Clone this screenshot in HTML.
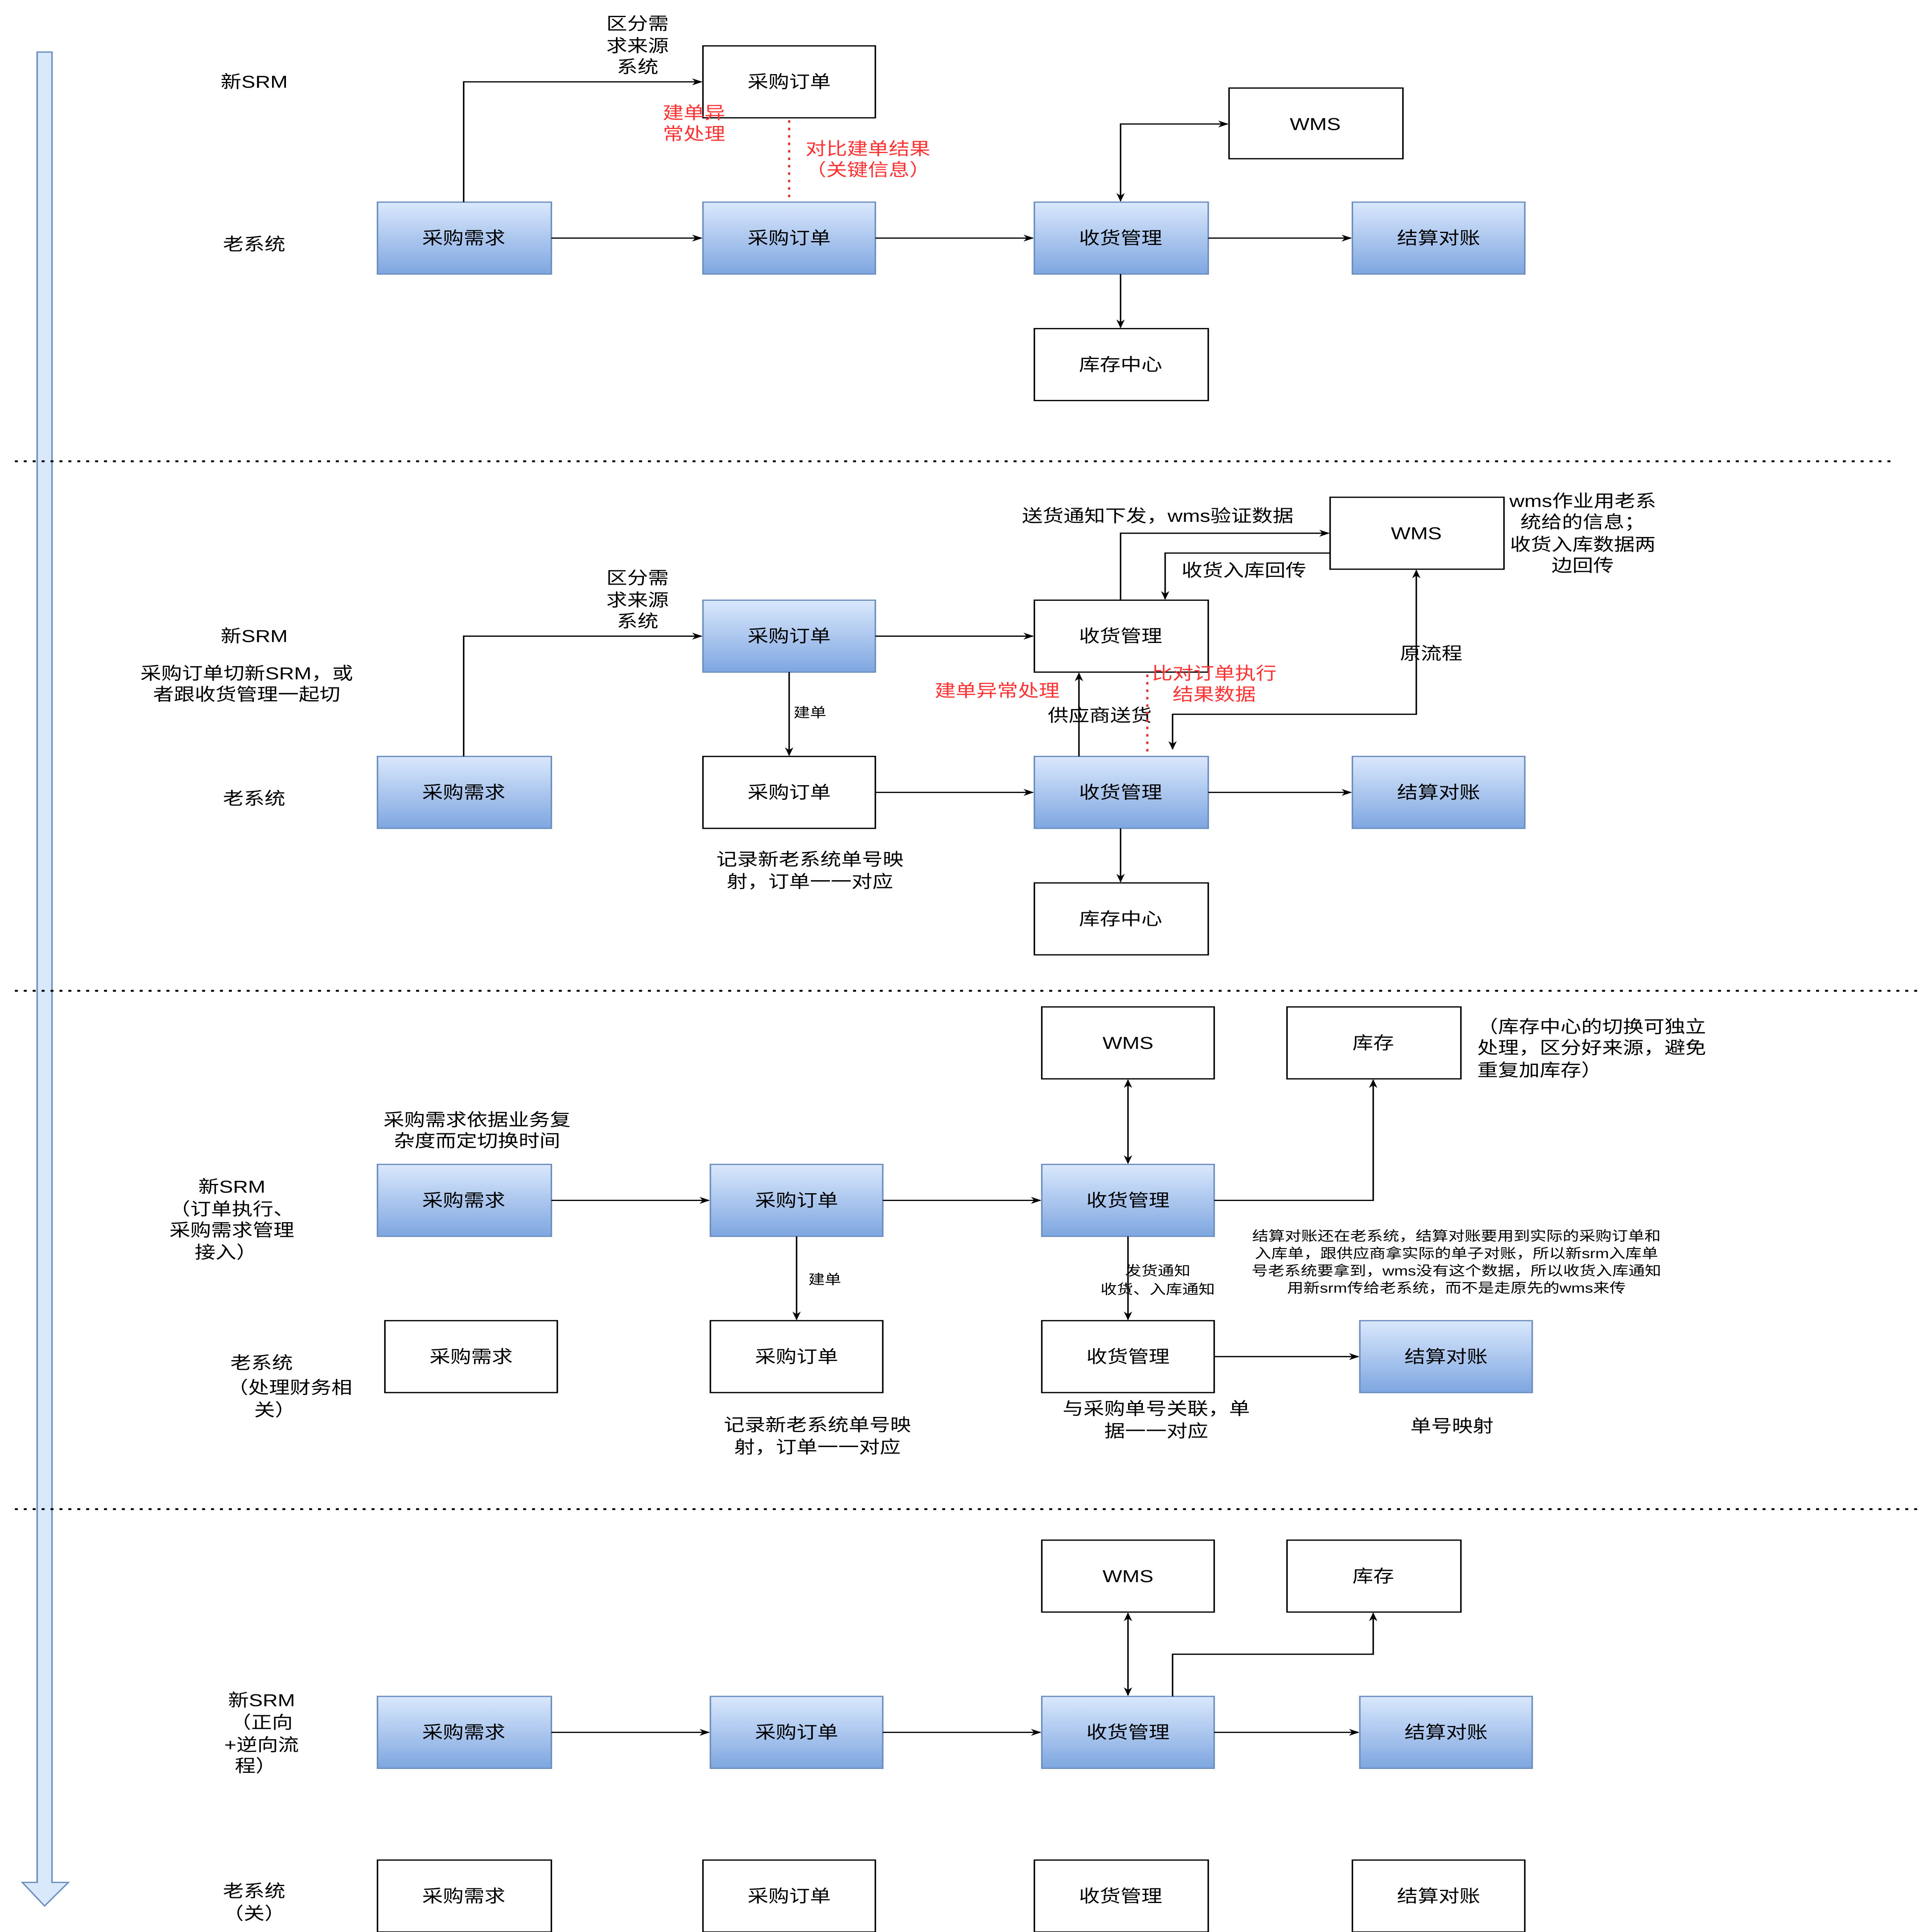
<!DOCTYPE html>
<html><head><meta charset="utf-8"><style>
html,body{margin:0;padding:0;background:#fff;width:100vw;height:100vh;overflow:hidden;}
svg{display:block;position:absolute;left:0;top:0;width:100vw;height:100vh;}
text{font-family:"Liberation Sans","Noto Sans CJK SC",sans-serif;font-size:14px;fill:#000;text-anchor:middle;dominant-baseline:central;}
.s{font-size:11px;}
.r{fill:#ff3333;}
.l{text-anchor:start;}
.w{fill:#fff;stroke:#000;stroke-width:1;}
.b{fill:url(#g);stroke:#6c8ebf;stroke-width:1;}
.c{fill:none;stroke:#000;stroke-width:1;}
</style></head><body>
<svg viewBox="0 0 1300 1558" preserveAspectRatio="none" xmlns="http://www.w3.org/2000/svg">
<defs>
<linearGradient id="g" x1="0" y1="0" x2="0" y2="1"><stop offset="0" stop-color="#dae8fc"/><stop offset="1" stop-color="#7ea6e0"/></linearGradient>
<marker id="a" viewBox="0 0 10 10" refX="9" refY="5" markerWidth="7" markerHeight="7" orient="auto-start-reverse"><path d="M0,1 L10,5 L0,9 L3,5 z" fill="#000"/></marker>
</defs>
<path d="M25,42 H35 V1518 H46 L30,1537 L15,1518 H25 Z" fill="#dae8fc" stroke="#6c8ebf"/>

<g stroke="#000" stroke-width="1.5" stroke-dasharray="2,4">
<line x1="10" y1="372" x2="1275" y2="372"/>
<line x1="10" y1="799" x2="1290" y2="799"/>
<line x1="10" y1="1217" x2="1290" y2="1217"/>
</g>

<text x="171" y="66">新SRM</text>
<text x="171" y="197">老系统</text>
<text x="429" y="19">区分需</text><text x="429" y="37">求来源</text><text x="429" y="54">系统</text>
<rect class="w" x="473" y="37" width="116" height="58"/><text x="531" y="66">采购订单</text>
<rect class="w" x="827" y="71" width="117" height="57"/><text x="885" y="100">WMS</text>
<rect class="b" x="254" y="163" width="117" height="58"/><text x="312" y="192">采购需求</text>
<rect class="b" x="473" y="163" width="116" height="58"/><text x="531" y="192">采购订单</text>
<rect class="b" x="696" y="163" width="117" height="58"/><text x="754" y="192">收货管理</text>
<rect class="b" x="910" y="163" width="116" height="58"/><text x="968" y="192">结算对账</text>
<rect class="w" x="696" y="265" width="117" height="58"/><text x="754" y="294">库存中心</text>
<path class="c" d="M312,163 V66 H472" marker-end="url(#a)"/>
<line x1="531" y1="97" x2="531" y2="163" stroke="#d33" stroke-width="1.5" stroke-dasharray="2,4"/>
<text class="r" x="467" y="91">建单异</text><text class="r" x="467" y="108">常处理</text>
<text class="r" x="584" y="120">对比建单结果</text><text class="r" x="584" y="137">（关键信息）</text>
<path class="c" d="M371,192 H472" marker-end="url(#a)"/>
<path class="c" d="M589,192 H695" marker-end="url(#a)"/>
<path class="c" d="M813,192 H909" marker-end="url(#a)"/>
<path class="c" d="M754,221 V264" marker-end="url(#a)"/>
<path class="c" d="M754,162 V100 H826" marker-start="url(#a)" marker-end="url(#a)"/>

<text x="429" y="466">区分需</text><text x="429" y="484">求来源</text><text x="429" y="501">系统</text>
<text x="171" y="513">新SRM</text>
<text x="166" y="543">采购订单切新SRM，或</text><text x="166" y="560">者跟收货管理一起切</text>
<text x="171" y="644">老系统</text>
<rect class="b" x="473" y="484" width="116" height="58"/><text x="531" y="513">采购订单</text>
<rect class="w" x="696" y="484" width="117" height="58"/><text x="754" y="513">收货管理</text>
<rect class="w" x="895" y="401" width="117" height="58"/><text x="953" y="430">WMS</text>
<text x="1065" y="404">wms作业用老系</text><text x="1065" y="421">统给的信息；</text><text x="1065" y="439">收货入库数据两</text><text x="1065" y="456">边回传</text>
<text x="779" y="416">送货通知下发，wms验证数据</text>
<path class="c" d="M754,484 V430 H894" marker-end="url(#a)"/>
<path class="c" d="M895,446 H784 V483" marker-end="url(#a)"/>
<text x="837" y="460">收货入库回传</text>
<rect class="b" x="254" y="610" width="117" height="58"/><text x="312" y="639">采购需求</text>
<rect class="w" x="473" y="610" width="116" height="58"/><text x="531" y="639">采购订单</text>
<rect class="b" x="696" y="610" width="117" height="58"/><text x="754" y="639">收货管理</text>
<rect class="b" x="910" y="610" width="116" height="58"/><text x="968" y="639">结算对账</text>
<rect class="w" x="696" y="712" width="117" height="58"/><text x="754" y="741">库存中心</text>
<path class="c" d="M312,610 V513 H472" marker-end="url(#a)"/>
<path class="c" d="M589,513 H695" marker-end="url(#a)"/>
<path class="c" d="M531,542 V609" marker-end="url(#a)"/>
<text class="s" x="545" y="575">建单</text>
<path class="c" d="M589,639 H695" marker-end="url(#a)"/>
<path class="c" d="M813,639 H909" marker-end="url(#a)"/>
<path class="c" d="M754,668 V711" marker-end="url(#a)"/>
<path class="c" d="M726,610 V543" marker-end="url(#a)"/>
<text x="740" y="577">供应商送货</text>
<line x1="772" y1="544" x2="772" y2="608" stroke="#d33" stroke-width="1.5" stroke-dasharray="2,4"/>
<text class="r" x="817" y="543">比对订单执行</text><text class="r" x="817" y="560">结果数据</text>
<text class="r" x="671" y="557">建单异常处理</text>
<path class="c" d="M953,460 V576 H789 V604" marker-start="url(#a)" marker-end="url(#a)"/>
<text x="963" y="527">原流程</text>
<text x="545" y="693">记录新老系统单号映</text><text x="545" y="711">射，订单一一对应</text>

<rect class="w" x="701" y="812" width="116" height="58"/><text x="759" y="841">WMS</text>
<rect class="w" x="866" y="812" width="117" height="58"/><text x="924" y="841">库存</text>
<text class="l" x="994" y="828">（库存中心的切换可独立</text><text class="l" x="994" y="845">处理，区分好来源，避免</text><text class="l" x="994" y="863">重复加库存）</text>
<text x="321" y="903">采购需求依据业务复</text><text x="321" y="920">杂度而定切换时间</text>
<text x="156" y="957">新SRM</text><text x="156" y="975">（订单执行、</text><text x="156" y="992">采购需求管理</text><text x="152" y="1010">接入）</text>
<rect class="b" x="254" y="939" width="117" height="58"/><text x="312" y="968">采购需求</text>
<rect class="b" x="478" y="939" width="116" height="58"/><text x="536" y="968">采购订单</text>
<rect class="b" x="701" y="939" width="116" height="58"/><text x="759" y="968">收货管理</text>
<path class="c" d="M371,968 H477" marker-end="url(#a)"/>
<path class="c" d="M594,968 H700" marker-end="url(#a)"/>
<path class="c" d="M759,871 V938" marker-start="url(#a)" marker-end="url(#a)"/>
<path class="c" d="M817,968 H924 V871" marker-end="url(#a)"/>
<path class="c" d="M536,997 V1064" marker-end="url(#a)"/>
<text class="s" x="555" y="1032">建单</text>
<path class="c" d="M759,997 V1064" marker-end="url(#a)"/>
<text class="s" x="779" y="1025">发货通知</text><text class="s" x="779" y="1040">收货、入库通知</text>
<text class="s" x="980" y="997">结算对账还在老系统，结算对账要用到实际的采购订单和</text>
<text class="s" x="980" y="1011">入库单，跟供应商拿实际的单子对账，所以新srm入库单</text>
<text class="s" x="980" y="1025">号老系统要拿到，wms没有这个数据，所以收货入库通知</text>
<text class="s" x="980" y="1039">用新srm传给老系统，而不是走原先的wms来传</text>
<text x="176" y="1099">老系统</text><text x="195" y="1119">（处理财务相</text><text x="185" y="1137">关）</text>
<rect class="w" x="259" y="1065" width="116" height="58"/><text x="317" y="1094">采购需求</text>
<rect class="w" x="478" y="1065" width="116" height="58"/><text x="536" y="1094">采购订单</text>
<rect class="w" x="701" y="1065" width="116" height="58"/><text x="759" y="1094">收货管理</text>
<rect class="b" x="915" y="1065" width="116" height="58"/><text x="973" y="1094">结算对账</text>
<path class="c" d="M817,1094 H914" marker-end="url(#a)"/>
<text x="550" y="1149">记录新老系统单号映</text><text x="550" y="1167">射，订单一一对应</text>
<text x="778" y="1136">与采购单号关联，单</text><text x="778" y="1154">据一一对应</text>
<text x="977" y="1150">单号映射</text>

<rect class="w" x="701" y="1242" width="116" height="58"/><text x="759" y="1271">WMS</text>
<rect class="w" x="866" y="1242" width="117" height="58"/><text x="924" y="1271">库存</text>
<text x="176" y="1371">新SRM</text><text x="176" y="1389">（正向</text><text x="176" y="1407">+逆向流</text><text x="172" y="1424">程）</text>
<rect class="b" x="254" y="1368" width="117" height="58"/><text x="312" y="1397">采购需求</text>
<rect class="b" x="478" y="1368" width="116" height="58"/><text x="536" y="1397">采购订单</text>
<rect class="b" x="701" y="1368" width="116" height="58"/><text x="759" y="1397">收货管理</text>
<rect class="b" x="915" y="1368" width="116" height="58"/><text x="973" y="1397">结算对账</text>
<path class="c" d="M371,1397 H477" marker-end="url(#a)"/>
<path class="c" d="M594,1397 H700" marker-end="url(#a)"/>
<path class="c" d="M817,1397 H914" marker-end="url(#a)"/>
<path class="c" d="M759,1301 V1367" marker-start="url(#a)" marker-end="url(#a)"/>
<path class="c" d="M789,1368 V1334 H924 V1301" marker-end="url(#a)"/>
<text x="171" y="1525">老系统</text><text x="171" y="1543">（关）</text>
<rect class="w" x="254" y="1500" width="117" height="58"/><text x="312" y="1529">采购需求</text>
<rect class="w" x="473" y="1500" width="116" height="58"/><text x="531" y="1529">采购订单</text>
<rect class="w" x="696" y="1500" width="117" height="58"/><text x="754" y="1529">收货管理</text>
<rect class="w" x="910" y="1500" width="116" height="58"/><text x="968" y="1529">结算对账</text>
</svg>
</body></html>
